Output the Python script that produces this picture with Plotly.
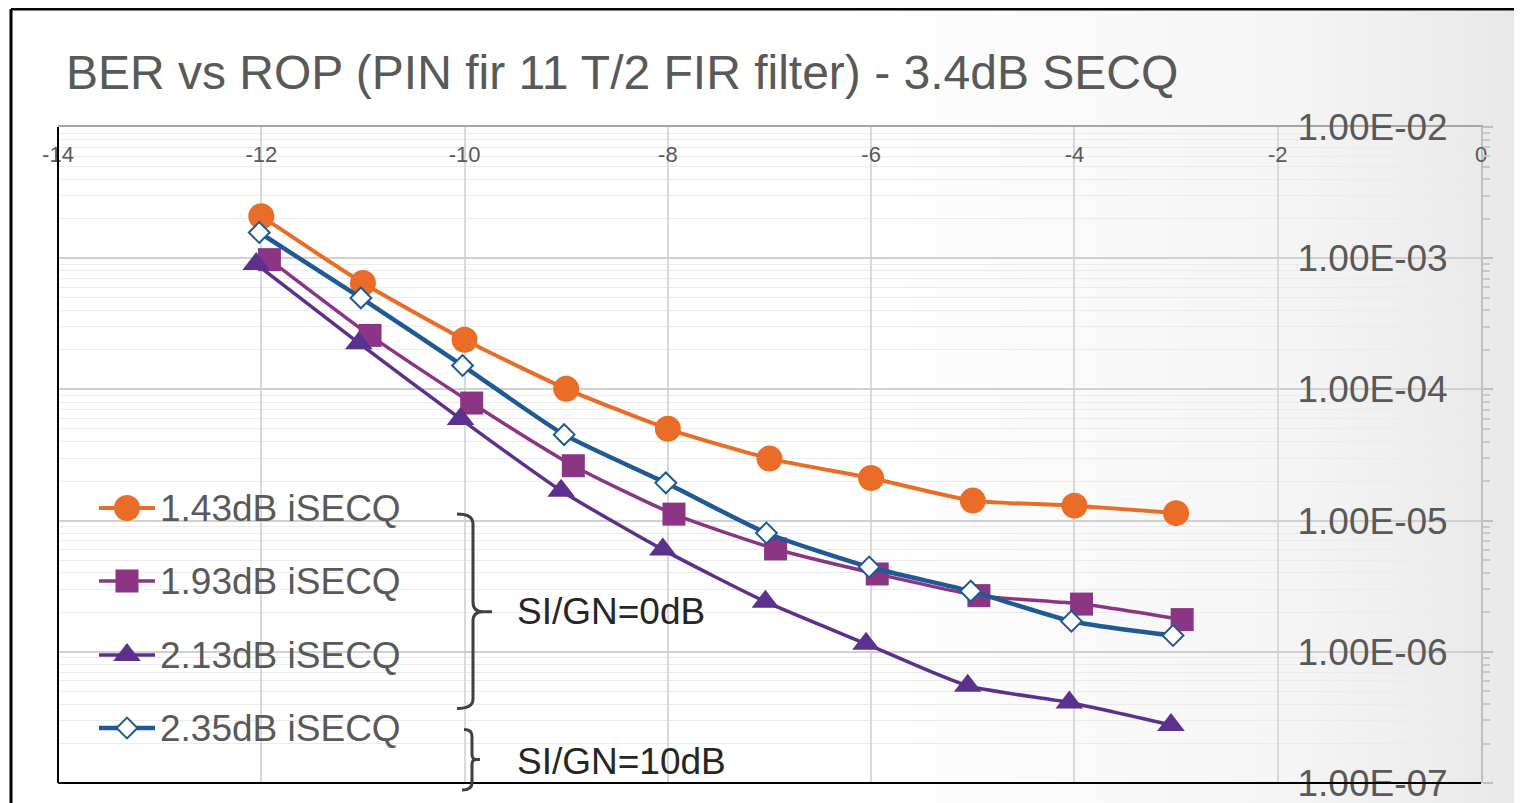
import base64
import plotly.graph_objects as go

# ---------------- data ----------------
rop_143 = [-12, -11, -10, -9, -8, -7, -6, -5, -4, -3]
ber_143 = [2.09e-3, 6.47e-4, 2.39e-4, 1.01e-4, 5.01e-5, 2.97e-5, 2.11e-5, 1.42e-5, 1.30e-5, 1.14e-5]

rop_193 = [-11.92, -10.93, -9.93, -8.93, -7.94, -6.94, -5.94, -4.94, -3.93, -2.94]
ber_193 = [9.75e-4, 2.58e-4, 7.87e-5, 2.62e-5, 1.12e-5, 6.08e-6, 3.92e-6, 2.68e-6, 2.31e-6, 1.76e-6]

rop_213 = [-12.05, -11.04, -10.04, -9.05, -8.05, -7.04, -6.05, -5.05, -4.05, -3.05]
ber_213 = [9.02e-4, 2.25e-4, 5.96e-5, 1.69e-5, 6.01e-6, 2.41e-6, 1.15e-6, 5.51e-7, 4.11e-7, 2.77e-7]

rop_235 = [-12.02, -11.02, -10.02, -9.02, -8.02, -7.03, -6.02, -5.02, -4.03, -3.03]
ber_235 = [1.57e-3, 4.98e-4, 1.52e-4, 4.52e-5, 1.94e-5, 8.05e-6, 4.43e-6, 2.90e-6, 1.71e-6, 1.33e-6]

series_names = ["1.43dB iSECQ", "1.93dB iSECQ", "2.13dB iSECQ", "2.35dB iSECQ"]

x_tick_vals = [-14, -12, -10, -8, -6, -4, -2, 0]
x_tick_text = ["-14", "-12", "-10", "-8", "-6", "-4", "-2", "0"]
y_tick_vals = [1e-2, 1e-3, 1e-4, 1e-5, 1e-6, 1e-7]
y_tick_text = ["1.00E-02", "1.00E-03", "1.00E-04", "1.00E-05", "1.00E-06", "1.00E-07"]

title_text = "BER vs ROP (PIN fir 11 T/2 FIR filter) - 3.4dB SECQ"
note_0 = "SI/GN=0dB"
note_10 = "SI/GN=10dB"

# ---------------- geometry (screen pixels; page body has an 8px margin) ----------------
OFF = 8
W_PX, H_PX = 1522 - OFF, 803 - OFF
S_PL, S_PR, S_PT, S_PB = 58, 1481, 127, 783          # plot area on screen
PL, PR, PT, PB = S_PL - OFF, S_PR - OFF, S_PT - OFF, S_PB - OFF
PW, PH = PR - PL, PB - PT


def px(x):
    return (x - S_PL) / PW


def py(y):
    return (S_PB - y) / PH


FONT = "Liberation Sans, Arial, sans-serif"
GRAY_TXT = "#595959"

minor_vals = [m * 10.0 ** e for e in range(-7, -2) for m in range(2, 10)]

fig = go.Figure()

styles = [
    dict(color="#E96D26", lw=4, marker=dict(symbol="circle", size=26, color="#E96D26")),
    dict(color="#8D3585", lw=3.5, marker=dict(symbol="square", size=23, color="#8D3585")),
    dict(color="#5C318D", lw=3.5, marker=dict(symbol="triangle-up", size=24, color="#5C318D")),
    dict(color="#1F5A96", lw=4.5, marker=dict(symbol="diamond", size=16, color="white",
                                               line=dict(color="#1F5A96", width=2))),
]
xs = [rop_143, rop_193, rop_213, rop_235]
ys = [ber_143, ber_193, ber_213, ber_235]

for name, x, y, st in zip(series_names, xs, ys, styles):
    fig.add_trace(go.Scatter(
        x=x, y=y, name=name, mode="lines+markers", showlegend=False,
        line=dict(color=st["color"], width=st["lw"], shape="spline", smoothing=0.6),
        marker=st["marker"],
    ))

# ---- custom legend drawn on an invisible pixel-scaled overlay axis ----
leg_y_screen = [508, 581, 655, 728]
leg_x0, leg_xm, leg_x1, leg_text_x = 99, 127, 155, 158
annotations = []
for name, st, yc in zip(series_names, styles, leg_y_screen):
    yy = S_PB - yc
    fig.add_trace(go.Scatter(
        x=[leg_x0 - S_PL, leg_x1 - S_PL], y=[yy, yy], mode="lines", xaxis="x2", yaxis="y2",
        line=dict(color=st["color"], width=st["lw"]), showlegend=False, hoverinfo="skip",
        cliponaxis=False))
    fig.add_trace(go.Scatter(
        x=[leg_xm - S_PL], y=[yy], mode="markers", xaxis="x2", yaxis="y2",
        marker=st["marker"], showlegend=False, hoverinfo="skip", cliponaxis=False))
    annotations.append(dict(text=name, xref="paper", yref="paper", x=px(leg_text_x), y=py(yc),
                            xanchor="left", yanchor="middle", showarrow=False,
                            font=dict(family=FONT, size=37, color=GRAY_TXT)))

# background gradient (svg)
svg = (
    f'<svg xmlns="http://www.w3.org/2000/svg" width="{W_PX}" height="{H_PX}">'
    '<defs><linearGradient id="g" x1="0" y1="0" x2="1" y2="0">'
    '<stop offset="0" stop-color="#ffffff"/>'
    '<stop offset="0.55" stop-color="#ffffff"/>'
    '<stop offset="0.85" stop-color="#f5f5f5"/>'
    '<stop offset="1" stop-color="#e8e8e8"/>'
    '</linearGradient></defs>'
    f'<rect width="{W_PX}" height="{H_PX}" fill="url(#g)"/></svg>'
)
svg_uri = "data:image/svg+xml;base64," + base64.b64encode(svg.encode()).decode()

shapes = []
# outer frame
shapes.append(dict(type="line", xref="paper", yref="paper", x0=px(11), x1=px(1530),
                   y0=py(9), y1=py(9), line=dict(color="black", width=3)))
shapes.append(dict(type="line", xref="paper", yref="paper", x0=px(11), x1=px(11),
                   y0=py(9), y1=py(810), line=dict(color="black", width=3)))
# plot borders
shapes.append(dict(type="line", xref="paper", yref="paper", x0=0, x1=0, y0=0, y1=1,
                   line=dict(color="black", width=2)))
shapes.append(dict(type="line", xref="paper", yref="paper", x0=0, x1=1, y0=0, y1=0,
                   line=dict(color="black", width=2)))


def path(cmds):
    out = []
    for c in cmds:
        if isinstance(c, str):
            out.append(c)
        else:
            out.append(f"{px(c[0]):.5f},{py(c[1]):.5f}")
    return " ".join(out)


br1 = path(["M", (457, 514), "Q", (473, 514), (473, 524), "L", (473, 602),
            "Q", (473, 611.7), (483, 611.7), "L", (492, 611.7),
            "M", (483, 611.7), "Q", (473, 611.7), (473, 621), "L", (473, 699),
            "Q", (473, 708.5), (457, 708.5)])
br2 = path(["M", (464, 729.5), "Q", (472, 729.5), (472, 736), "L", (472, 754),
            "Q", (472, 759.5), (476, 759.5), "L", (480, 759.5),
            "M", (476, 759.5), "Q", (472, 759.5), (472, 765), "L", (472, 783),
            "Q", (472, 790), (462, 790)])
for p in (br1, br2):
    shapes.append(dict(type="path", xref="paper", yref="paper", path=p,
                       line=dict(color="#404040", width=3)))

annotations += [
    dict(text=note_0, xref="paper", yref="paper", x=px(515), y=py(611.7),
         xanchor="left", yanchor="middle", showarrow=False,
         font=dict(family=FONT, size=37, color="#262626")),
    dict(text=note_10, xref="paper", yref="paper", x=px(515), y=py(761.7),
         xanchor="left", yanchor="middle", showarrow=False,
         font=dict(family=FONT, size=37, color="#262626")),
]

fig.update_layout(
    width=W_PX, height=H_PX,
    margin=dict(l=PL, r=W_PX - PR, t=PT, b=H_PX - PB, pad=0, autoexpand=False),
    paper_bgcolor="white", plot_bgcolor="rgba(0,0,0,0)",
    font=dict(family=FONT, color=GRAY_TXT),
    showlegend=False,
    title=dict(text=title_text, x=(66 - OFF) / W_PX, xref="container", xanchor="left",
               y=1 - (72 - OFF) / H_PX, yref="container", yanchor="middle",
               font=dict(family=FONT, size=48, color=GRAY_TXT)),
    xaxis=dict(range=[-14, 0], side="top", tickvals=x_tick_vals, ticktext=x_tick_text,
               ticklabelposition="inside", ticklabeloverflow="allow",
               tickfont=dict(size=22, color=GRAY_TXT), ticks="",
               showgrid=True, gridcolor="#D9D9D9", gridwidth=1.5,
               showline=True, linecolor="#A6A6A6", linewidth=2,
               zeroline=False, automargin=False, ticklabelstandoff=21),
    yaxis=dict(type="log", range=[-7, -2], side="right", tickvals=y_tick_vals,
               ticktext=y_tick_text, ticklabelposition="inside",
               ticklabeloverflow="allow",
               tickfont=dict(size=37, color=GRAY_TXT),
               ticks="outside", ticklen=10, tickcolor="#BFBFBF", tickwidth=1.5,
               showgrid=True, gridcolor="#D0D0D0", gridwidth=2,
               showline=True, linecolor="#BFBFBF", linewidth=1.5,
               zeroline=False, automargin=False, ticklabelstandoff=38,
               minor=dict(tickvals=minor_vals, ticks="outside", ticklen=7,
                          tickcolor="#C8C8C8", showgrid=True,
                          gridcolor="#EBEBEB", gridwidth=1)),
    xaxis2=dict(range=[0, PW], overlaying="x", visible=False, fixedrange=True),
    yaxis2=dict(range=[0, PH], overlaying="y", visible=False, fixedrange=True),
    shapes=shapes, annotations=annotations,
    images=[dict(source=svg_uri, xref="paper", yref="paper", x=-PL / PW, y=1 + PT / PH,
                 sizex=W_PX / PW, sizey=H_PX / PH, xanchor="left", yanchor="top",
                 sizing="stretch", layer="below")],
)

fig.write_html("out.html")
